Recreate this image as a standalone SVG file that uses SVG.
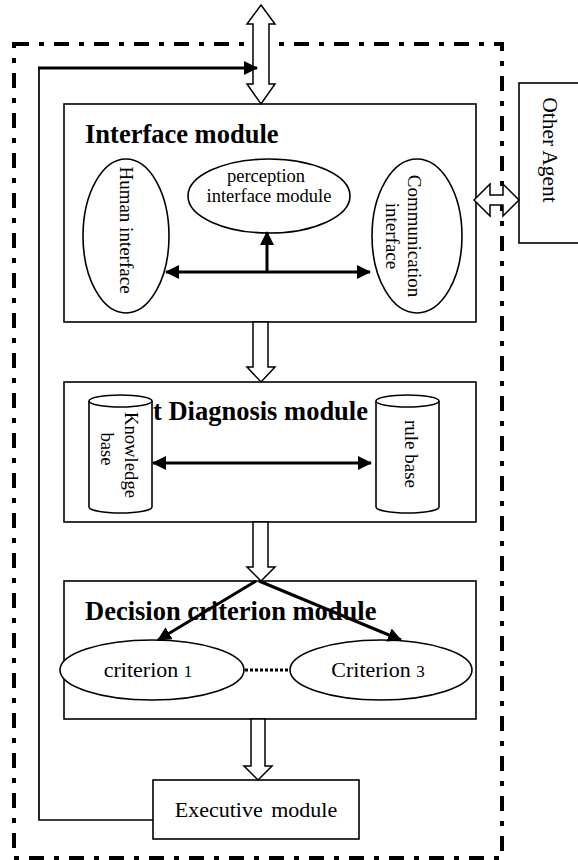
<svg xmlns="http://www.w3.org/2000/svg" width="578" height="860" viewBox="0 0 578 860">
<style>
.box{fill:#fff;stroke:#000;stroke-width:1.6}
.blk{fill:#fff;stroke:#000;stroke-width:1.5;stroke-linejoin:miter}
.thick{fill:none;stroke:#000;stroke-width:3}
.thin{fill:none;stroke:#000;stroke-width:1.7}
.t{font-family:"Liberation Serif","Times New Roman",serif;fill:#000}
.title{font-size:26.5px;font-weight:bold}
.lbl{font-size:19px}
</style>
<defs>
<marker id="ah" viewBox="0 0 14 14" refX="13" refY="7" markerWidth="14" markerHeight="14" markerUnits="userSpaceOnUse" orient="auto-start-reverse">
<path d="M0,0 L14,7 L0,14 z" fill="#000"/>
</marker>
</defs>

<!-- outer agent boundary -->
<rect x="14" y="44" width="488" height="814" fill="none" stroke="#000" stroke-width="4" stroke-dasharray="15 10 5 10"/>

<g id="interface-module">
<rect class="box" x="64" y="104" width="412" height="218"/>
<text class="t title" x="85" y="143">Interface module</text>
</g>
<g id="human-interface">
<ellipse class="box" cx="126" cy="236" rx="43" ry="77"/>
<text class="t lbl" text-anchor="middle" transform="translate(120,230) rotate(90)">Human interface</text>
</g>
<g id="perception-interface">
<ellipse class="box" cx="269" cy="196" rx="81" ry="37"/>
<text class="t" font-size="18.5" text-anchor="middle" x="266" y="182">perception</text>
<text class="t" font-size="18.5" text-anchor="middle" x="269" y="202">interface module</text>
</g>
<g id="communication-interface">
<ellipse class="box" cx="417" cy="236" rx="45" ry="77"/>
<text class="t lbl" text-anchor="middle" transform="translate(408,236) rotate(90)">Communication</text>
<text class="t lbl" text-anchor="middle" transform="translate(386,236) rotate(90)">interface</text>
</g>

<g id="other-agent">
<rect class="box" x="519" y="83" width="60" height="160"/>
<text class="t" font-size="21.5" text-anchor="middle" transform="translate(543,150) rotate(90)">Other Agent</text>
</g>

<g id="diagnosis-module">
<rect class="box" x="64" y="382" width="412" height="140"/>
<text class="t title" x="153" y="420">t Diagnosis module</text>
</g>
<g id="knowledge-base">
<path class="box" d="M89,401 A31.5,6 0 0 1 152,401 L152,507 A31.5,6 0 0 1 89,507 Z"/>
<path class="box" fill="none" d="M89,401 A31.5,6 0 0 0 152,401"/>
<text class="t" font-size="18.7" text-anchor="middle" transform="translate(125,455) rotate(90)">Knowledge</text>
<text class="t" font-size="18.7" text-anchor="middle" transform="translate(101,449) rotate(90)">base</text>
</g>
<g id="rule-base">
<path class="box" d="M376,401 A31.5,6 0 0 1 439,401 L439,507 A31.5,6 0 0 1 376,507 Z"/>
<path class="box" fill="none" d="M376,401 A31.5,6 0 0 0 439,401"/>
<text class="t lbl" text-anchor="middle" transform="translate(405,454) rotate(90)">rule base</text>
</g>

<g id="decision-module">
<rect class="box" x="64" y="581" width="412" height="138"/>
<text class="t title" x="85" y="620">Decision criterion module</text>
</g>
<g id="criterion-1">
<ellipse class="box" cx="152" cy="670" rx="92" ry="30"/>
<text class="t" font-size="22" text-anchor="middle" x="148" y="677">criterion <tspan font-size="17">1</tspan></text>
</g>
<g id="criterion-3">
<ellipse class="box" cx="381" cy="670" rx="91" ry="30"/>
<text class="t" font-size="22" text-anchor="middle" x="378" y="677">Criterion <tspan font-size="17">3</tspan></text>
</g>

<g id="executive-module">
<rect class="box" x="153" y="780" width="206" height="59"/>
<text class="t" font-size="22" text-anchor="middle" x="256" y="817" word-spacing="3">Executive module</text>
</g>

<g id="connectors">
<!-- top external double arrow -->
<polygon class="blk" points="261,5 275,24 269,24 269,84 275,84 261,104 247,84 253,84 253,24 247,24"/>
<!-- feedback loop -->
<polyline class="thin" points="153,820 39,820 39,68"/>
<line class="thick" x1="38" y1="68" x2="257" y2="68" marker-end="url(#ah)"/>
<!-- interface internal -->
<line class="thick" x1="166" y1="272" x2="370" y2="272" marker-start="url(#ah)" marker-end="url(#ah)"/>
<line class="thick" x1="267" y1="272" x2="267" y2="232" marker-end="url(#ah)"/>
<!-- to other agent -->
<polygon class="blk" points="474,200 490,184 490,195 503,195 503,184 519,200 503,216 503,205 490,205 490,216"/>
<!-- interface to diagnosis -->
<polygon class="blk" points="253,322 268,322 268,367 275,367 261,382 247,367 253,367"/>
<!-- diagnosis internal -->
<line class="thick" x1="153" y1="463" x2="371" y2="463" marker-start="url(#ah)" marker-end="url(#ah)"/>
<!-- diagnosis to decision -->
<polygon class="blk" points="253,522 268,522 268,567 275,567 261,581 247,567 253,567"/>
<!-- decision internal -->
<line class="thick" x1="256" y1="581" x2="158" y2="640" marker-end="url(#ah)"/>
<line class="thick" x1="259" y1="581" x2="401" y2="640" marker-end="url(#ah)"/>
<line x1="245" y1="670" x2="290" y2="670" stroke="#000" stroke-width="3" stroke-dasharray="3 2"/>
<!-- decision to executive -->
<polygon class="blk" points="251,719 265,719 265,766 272,766 258,780 244,766 251,766"/>
</g>
</svg>
